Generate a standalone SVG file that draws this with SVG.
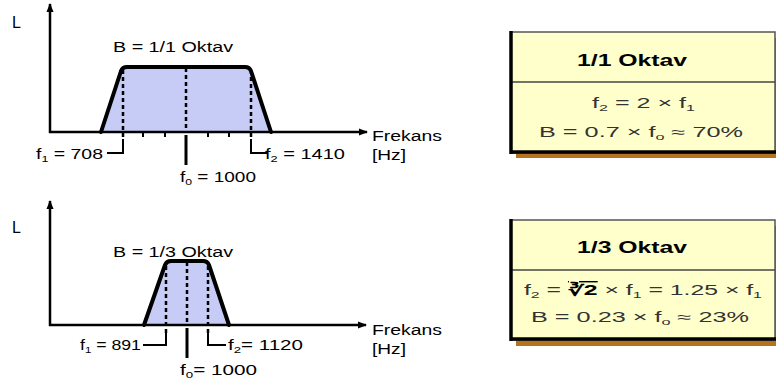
<svg xmlns="http://www.w3.org/2000/svg" width="776" height="383" viewBox="0 0 776 383">
<style>
text{font-family:"Liberation Sans",Arial,sans-serif;fill:#000}
.lbl{font-size:14px}
.ax{font-size:16px}
.ttl{font-size:17px;font-weight:bold}
.frm{font-size:14px;fill:#333}
.sub{font-size:9px}
.axis{stroke:#000;stroke-width:2.5;fill:none}
.band{fill:#c6ccf6;stroke:none}
.edge{fill:none;stroke:#000;stroke-width:4;stroke-linejoin:round;stroke-linecap:round}
.dash{stroke:#000;stroke-width:2.5;stroke-dasharray:4 3;fill:none}
.brk{stroke:#000;stroke-width:2;fill:none}
.ctr{stroke:#000;stroke-width:3;fill:none}
.tick{stroke:#000;stroke-width:2}
.shadow{fill:#b5731f}
.box{fill:#ffffcc;stroke:#555;stroke-width:1.5}
.thick{stroke:#000;stroke-width:3.5}
.div{stroke:#444;stroke-width:1.5}
</style>
<defs>
<marker id="arr" markerUnits="userSpaceOnUse" markerWidth="9" markerHeight="8" refX="8" refY="4" orient="auto">
<path d="M0,0.5 L9,4 L0,7.5 Z" fill="#000"/>
</marker>
</defs>

<g id="graph-octave">
<path class="band" d="M101,132 L121,71 Q122.5,67 127,67 L245,67 Q249.5,67 251,71 L271,132 Z"/>
<g id="connectors-octave">
<line class="axis" x1="50" y1="133" x2="50" y2="4" marker-end="url(#arr)"/>
<line class="axis" x1="49" y1="132" x2="367" y2="132" marker-end="url(#arr)"/>
<line class="tick" x1="143" y1="132" x2="143" y2="137"/>
<line class="tick" x1="165" y1="132" x2="165" y2="137"/>
<line class="tick" x1="208" y1="132" x2="208" y2="137"/>
<line class="tick" x1="229" y1="132" x2="229" y2="137"/>
<line class="dash" x1="123" y1="70" x2="123" y2="140"/>
<polyline class="brk" points="123,139 123,153 107,153"/>
<line class="dash" x1="186" y1="68" x2="186" y2="132"/>
<line class="ctr" x1="186" y1="135" x2="186" y2="165"/>
<line class="dash" x1="251" y1="70" x2="251" y2="140"/>
<polyline class="brk" points="251,139 251,153 267,153"/>
</g>
<path class="edge" d="M101,132 L121,71 Q122.5,67 127,67 L245,67 Q249.5,67 251,71 L271,132"/>
<text class="ax" x="12" y="28">L</text>
<text class="lbl" x="113" y="52" textLength="120" lengthAdjust="spacingAndGlyphs">B = 1/1 Oktav</text>
<text class="lbl" x="36" y="159" textLength="67" lengthAdjust="spacingAndGlyphs">f<tspan class="sub" dy="3">1</tspan><tspan dy="-3"> = 708</tspan></text>
<text class="lbl" x="180" y="182" textLength="76" lengthAdjust="spacingAndGlyphs">f<tspan class="sub" dy="3">0</tspan><tspan dy="-3"> = 1000</tspan></text>
<text class="lbl" x="265" y="159" textLength="80" lengthAdjust="spacingAndGlyphs">f<tspan class="sub" dy="3">2</tspan><tspan dy="-3"> = 1410</tspan></text>
<text class="lbl" x="372" y="141" textLength="70" lengthAdjust="spacingAndGlyphs">Frekans</text>
<text class="lbl" x="372" y="160" textLength="34" lengthAdjust="spacingAndGlyphs">[Hz]</text>
</g>

<g id="graph-third">
<path class="band" d="M144,325 L165,265 Q166.5,261 171,261 L203,261 Q207.5,261 209,265 L229,325 Z"/>
<g id="connectors-third">
<line class="axis" x1="50" y1="326" x2="50" y2="201" marker-end="url(#arr)"/>
<line class="axis" x1="49" y1="325" x2="366" y2="325" marker-end="url(#arr)"/>
<line class="dash" x1="166" y1="266" x2="166" y2="334"/>
<polyline class="brk" points="166,333 166,345 143,345"/>
<line class="dash" x1="187" y1="262" x2="187" y2="325"/>
<line class="ctr" x1="187" y1="328" x2="187" y2="358"/>
<line class="dash" x1="208" y1="266" x2="208" y2="334"/>
<polyline class="brk" points="208,333 208,345 226,345"/>
</g>
<path class="edge" d="M144,325 L165,265 Q166.5,261 171,261 L203,261 Q207.5,261 209,265 L229,325"/>
<text class="ax" x="12" y="233">L</text>
<text class="lbl" x="113" y="257" textLength="120" lengthAdjust="spacingAndGlyphs">B = 1/3 Oktav</text>
<text class="lbl" x="80" y="350" textLength="61" lengthAdjust="spacingAndGlyphs">f<tspan class="sub" dy="3">1</tspan><tspan dy="-3"> = 891</tspan></text>
<text class="lbl" x="180" y="375" textLength="77" lengthAdjust="spacingAndGlyphs">f<tspan class="sub" dy="3">0</tspan><tspan dy="-3">= 1000</tspan></text>
<text class="lbl" x="228" y="350" textLength="75" lengthAdjust="spacingAndGlyphs">f<tspan class="sub" dy="3">2</tspan><tspan dy="-3">= 1120</tspan></text>
<text class="lbl" x="372" y="335" textLength="70" lengthAdjust="spacingAndGlyphs">Frekans</text>
<text class="lbl" x="372" y="354" textLength="34" lengthAdjust="spacingAndGlyphs">[Hz]</text>
</g>

<g id="box-octave">
<rect class="shadow" x="516" y="38" width="262" height="120"/>
<rect class="box" x="511" y="32" width="264" height="121"/>
<line class="div" x1="511" y1="82" x2="775" y2="82"/>
<line class="thick" x1="511" y1="31" x2="511" y2="154"/>
<line class="thick" x1="510" y1="152" x2="776" y2="152"/>
<text class="ttl" x="577" y="66" textLength="110" lengthAdjust="spacingAndGlyphs">1/1 Oktav</text>
<text class="frm" x="592" y="108" textLength="103" lengthAdjust="spacingAndGlyphs">f<tspan class="sub" dy="3">2</tspan><tspan dy="-3"> = 2 × f</tspan><tspan class="sub" dy="3">1</tspan></text>
<text class="frm" x="539" y="137" textLength="204" lengthAdjust="spacingAndGlyphs">B = 0.7 × f<tspan class="sub" dy="3">o</tspan><tspan dy="-3"> ≈ 70%</tspan></text>
</g>

<g id="box-third">
<rect class="shadow" x="516" y="226" width="262" height="120"/>
<rect class="box" x="511" y="220" width="264" height="120"/>
<line class="div" x1="511" y1="270" x2="775" y2="270"/>
<line class="thick" x1="511" y1="219" x2="511" y2="341"/>
<line class="thick" x1="510" y1="339" x2="776" y2="339"/>
<text class="ttl" x="577" y="253" textLength="110" lengthAdjust="spacingAndGlyphs">1/3 Oktav</text>
<text class="frm" x="524" y="295" textLength="238" lengthAdjust="spacingAndGlyphs">f<tspan class="sub" dy="3">2</tspan><tspan dy="-3"> = </tspan><tspan font-weight="bold" fill="#000" text-decoration="overline">∛2</tspan><tspan> × f</tspan><tspan class="sub" dy="3">1</tspan><tspan dy="-3"> = 1.25 × f</tspan><tspan class="sub" dy="3">1</tspan></text>
<text class="frm" x="531" y="322" textLength="218" lengthAdjust="spacingAndGlyphs">B = 0.23 × f<tspan class="sub" dy="3">o</tspan><tspan dy="-3"> ≈ 23%</tspan></text>
</g>
</svg>
